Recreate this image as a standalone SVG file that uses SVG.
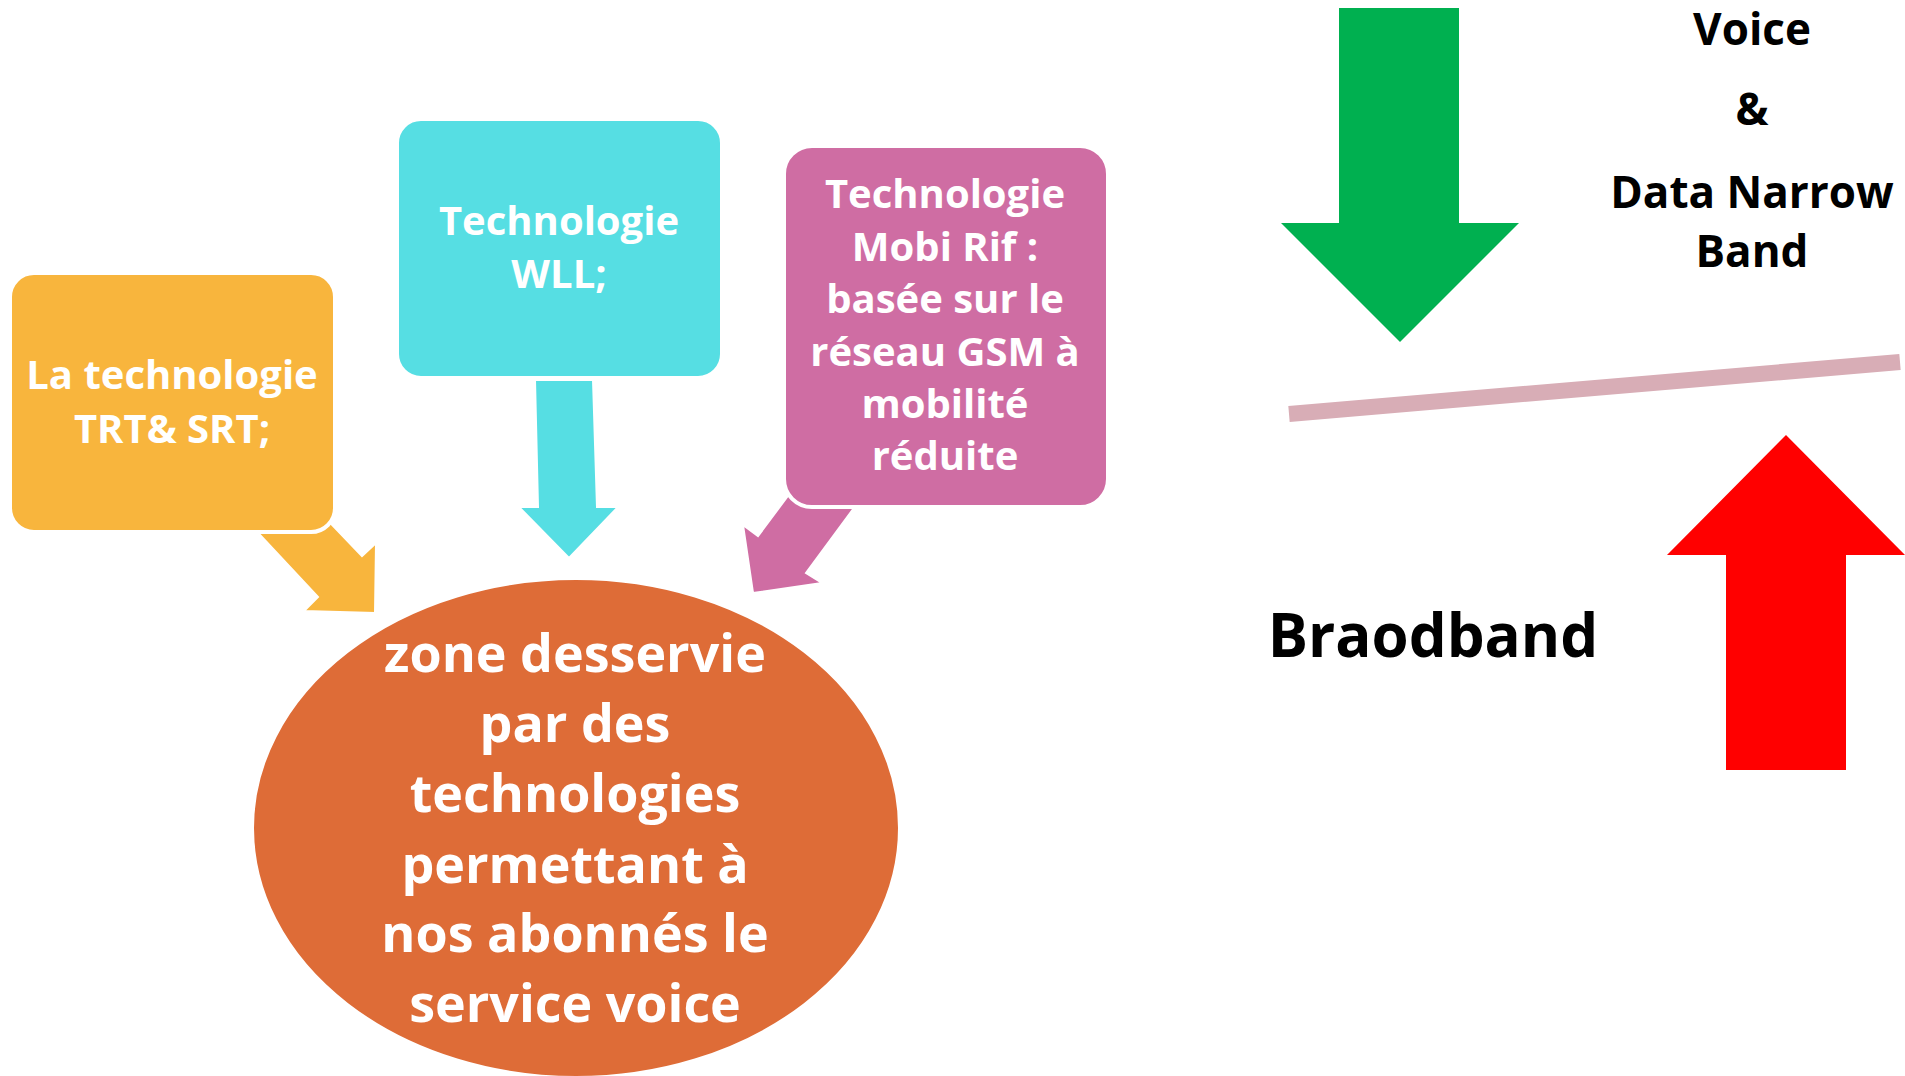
<svg xmlns="http://www.w3.org/2000/svg" width="1905" height="1076" viewBox="0 0 1905 1076">
<style>
.t{font-family:"Open Sans","Noto Sans","DejaVu Sans",sans-serif;font-weight:bold;text-anchor:middle}
.w{fill:#fff}
.k{fill:#000}
.box{stroke:#fff;stroke-width:4}
.arr{stroke:#fff;stroke-width:2}
</style>
<rect width="1905" height="1076" fill="#fff"/>
<g id="connectors">
<polygon class="arr" fill="#F8B53D" points="233,506 318,597 304,611 375,613 376,543 362,556 316,508"/>
<polygon class="arr" fill="#56DEE3" points="535,380 593,380 597,507 618,507 569,558 519,507 538,507"/>
<polygon class="arr" fill="#CF6DA3" points="802,477 758,536 743,525 753,593 822,583 806,573 865,493"/>
</g>
<g id="node-trt">
<rect class="box" x="10" y="273" width="325" height="259" rx="24" fill="#F8B53D"/>
<text class="t w" font-size="40"><tspan x="172" y="389">La technologie</tspan><tspan x="172" y="443">TRT&amp; SRT;</tspan></text>
</g>
<g id="node-wll">
<rect class="box" x="397" y="119" width="325" height="259" rx="24" fill="#56DEE3"/>
<text class="t w" font-size="40"><tspan x="559" y="235">Technologie</tspan><tspan x="559" y="288">WLL;</tspan></text>
</g>
<g id="node-mobirif">
<rect class="box" x="784" y="146" width="324" height="361" rx="28" fill="#CF6DA3"/>
<text class="t w" font-size="40"><tspan x="945" y="208">Technologie</tspan><tspan x="945" y="261">Mobi Rif :</tspan><tspan x="945" y="313">basée sur le</tspan><tspan x="945" y="366">réseau GSM à</tspan><tspan x="945" y="418">mobilité</tspan><tspan x="945" y="470">réduite</tspan></text>
</g>
<g id="node-zone">
<ellipse class="box" cx="576" cy="828" rx="324" ry="250" fill="#DE6C37"/>
<text class="t w" font-size="52"><tspan x="575" y="672">zone desservie</tspan><tspan x="575" y="742">par des</tspan><tspan x="575" y="812">technologies</tspan><tspan x="575" y="883">permettant à</tspan><tspan x="575" y="952">nos abonnés le</tspan><tspan x="575" y="1022">service voice</tspan></text>
</g>
<g id="node-green-arrow">
<polygon fill="#00B050" points="1339,8 1459,8 1459,223 1519,223 1400,342 1281,223 1339,223"/>
</g>
<g id="node-voice">
<text class="t k" font-size="44"><tspan x="1752" y="45">Voice</tspan><tspan x="1752" y="125">&amp;</tspan><tspan x="1752" y="208">Data Narrow</tspan><tspan x="1752" y="267">Band</tspan></text>
</g>
<g id="node-line">
<line x1="1289" y1="414" x2="1900" y2="362" stroke="#D8ADB6" stroke-width="16"/>
</g>
<g id="node-braodband">
<text class="t k" font-size="60" x="1433" y="657">Braodband</text>
</g>
<g id="node-red-arrow">
<polygon fill="#FF0000" points="1786,435 1905,555 1846,555 1846,770 1726,770 1726,555 1667,555"/>
</g>
</svg>
